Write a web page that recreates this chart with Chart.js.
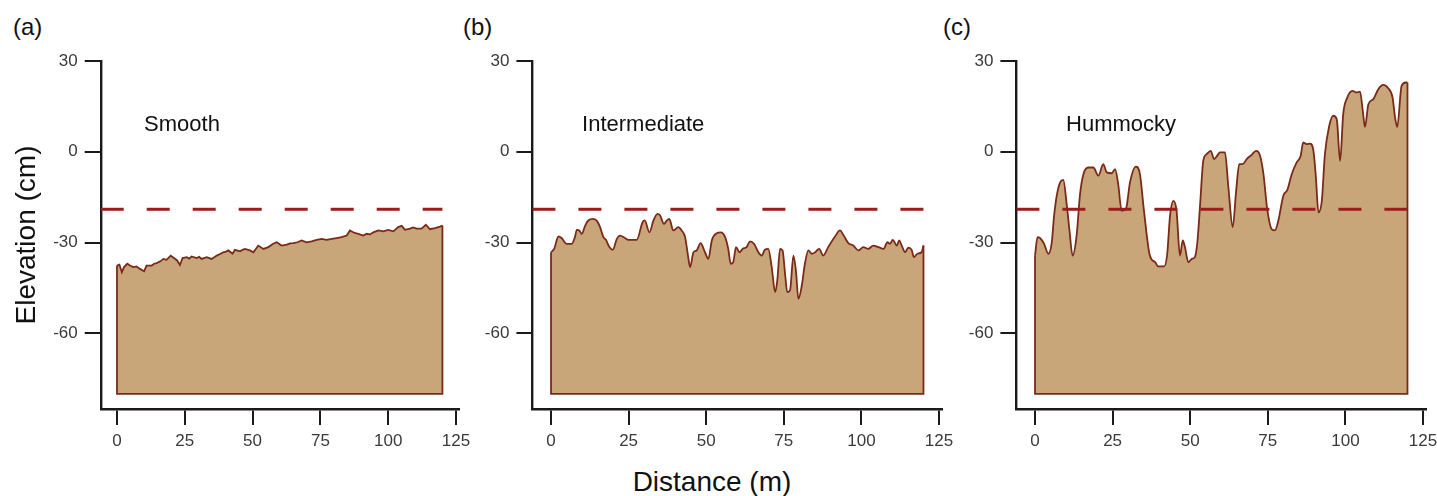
<!DOCTYPE html>
<html>
<head>
<meta charset="utf-8">
<script src="https://cdn.jsdelivr.net/npm/chart.js@4.4.1/dist/chart.umd.min.js"></script>
<style>
  body { margin: 0; background: #fff; width: 1437px; height: 496px; position: relative; overflow: hidden;
         font-family: "Liberation Sans", Arial, sans-serif; }
  canvas { position: absolute; top: 0; }
  .lbl { position: absolute; color: #111; white-space: nowrap; }
</style>
</head>
<body>
<div class="lbl" style="left:13px;top:13px;font-size:24px;line-height:28px">(a)</div>
<div class="lbl" style="left:463px;top:13px;font-size:24px;line-height:28px">(b)</div>
<div class="lbl" style="left:943px;top:13px;font-size:24px;line-height:28px">(c)</div>
<div class="lbl" style="left:0;width:1424px;text-align:center;top:466px;font-size:28px;line-height:32px">Distance (m)</div>

<canvas id="panelA" width="475" height="496" style="left:0px"></canvas>
<canvas id="panelB" width="500" height="496" style="left:460px"></canvas>
<canvas id="panelC" width="492" height="496" style="left:945px"></canvas>

<script>
// ---- data ----
const xTicks = [0, 25, 50, 75, 100, 125];
const yTicks = [-60, -30, 0, 30];
const baseLevel = -80;      // bottom of the filled profile
const waterLevel = -19;     // dashed reference line
const waterX = [-6, 120];

// (a) Smooth
const distA = [0,0.9,1.8,2.6,3.8,4.8,6.0,7.2,8.5,10.0,10.9,12.8,13.7,14.6,16.0,17.1,18.3,19.8,21.0,22.2,
  23.2,24.2,25.7,26.6,27.5,29.4,30.3,31.2,33.1,34.9,36.8,38.0,39.2,40.2,41.1,42.6,43.5,45.4,46.3,47.2,
  49.0,50.3,52.1,54.0,55.8,57.6,58.9,60.7,62.6,63.8,65.0,66.5,68.1,69.9,71.8,73.6,75.5,77.3,79.2,81.0,
  82.8,84.7,85.9,87.1,88.0,89.0,90.8,92.1,93.3,94.5,96.4,98.2,100.0,101.9,103.7,105.0,106.2,108.0,109.2,110.5,
  112.3,113.9,115.4,117.3,119.1,120];
const elevA = [-37.6,-37.3,-39.8,-38.1,-37.0,-37.6,-38.1,-37.9,-38.7,-39.5,-37.6,-37.6,-37.0,-36.8,-36.2,-35.4,-35.7,-34.3,-35.1,-35.9,
  -37.4,-35.1,-34.8,-35.3,-34.6,-35.1,-34.7,-35.4,-34.8,-35.4,-34.3,-33.8,-33.2,-33.0,-32.6,-33.7,-32.4,-32.9,-32.4,-32.1,
  -32.6,-33.2,-31.0,-32.1,-31.5,-30.4,-29.9,-31.0,-30.7,-30.3,-30.2,-29.9,-29.3,-29.9,-29.6,-29.1,-28.8,-29.1,-28.8,-28.5,
  -28.2,-27.7,-26.0,-26.6,-26.9,-27.1,-27.7,-27.1,-27.3,-26.6,-26.0,-26.3,-25.8,-26.3,-24.9,-24.5,-25.8,-25.4,-25.0,-25.4,
  -25.4,-24.1,-25.6,-25.2,-24.7,-24.4];

// (b) Intermediate
const distB = [0,1.0,2.4,3.4,5.0,6.7,7.7,8.3,9.1,9.9,11.0,12.0,13.6,14.9,15.8,16.9,17.7,18.8,19.9,21.2,
  22.2,23.8,24.9,27.6,29.5,30.2,31.7,33.0,34.3,35.1,36.4,37.3,38.1,39.4,41.0,42.1,43.2,44.2,44.8,45.9,
  46.9,48.2,49.6,50.7,51.8,53.4,54.7,56.1,57.1,57.9,58.7,59.6,60.7,61.7,63.0,64.1,65.4,66.8,67.9,68.9,
  70.0,71.1,72.2,72.9,73.8,74.6,75.4,76.1,77.0,78.1,78.9,79.7,80.8,81.8,82.9,84.0,85.1,86.4,87.7,89.3,
  91.5,93.1,94.2,95.8,97.4,99.0,100.6,102.2,103.8,105.5,107.1,108.4,109.2,110.1,111.4,112.2,113.0,114.1,115.1,116.2,
  116.9,118.0,119.4,120];
const elevB = [-33.2,-32.1,-28.0,-28.5,-30.4,-30.4,-28.2,-25.8,-26.0,-27.1,-24.4,-22.7,-22.2,-23.0,-24.9,-28.2,-29.1,-31.5,-32.4,-28.8,
  -27.7,-28.5,-29.1,-29.1,-23.3,-22.7,-26.6,-22.7,-20.5,-21.0,-23.8,-22.7,-22.2,-26.0,-24.9,-26.0,-28.2,-34.8,-38.1,-33.2,
  -32.6,-30.2,-33.2,-35.4,-29.3,-26.9,-26.6,-28.2,-32.1,-37.0,-36.5,-31.5,-33.2,-32.1,-31.5,-29.6,-30.4,-33.2,-34.3,-32.4,
  -32.1,-38.1,-46.4,-42.5,-32.1,-32.6,-40.3,-46.4,-45.8,-34.3,-39.2,-48.6,-44.2,-37.0,-32.6,-33.7,-33.2,-32.1,-34.3,-31.5,
  -28.0,-26.0,-27.5,-30.2,-31.0,-32.6,-31.5,-32.1,-31.0,-31.5,-32.1,-29.9,-30.4,-29.1,-31.0,-29.3,-31.0,-33.2,-31.7,-32.4,
  -34.8,-33.7,-33.2,-31.0];

// (c) Hummocky
const distC = [0,0.8,1.6,2.9,4.3,5.4,6.1,7.0,8.1,9.1,10.2,11.1,12.1,13.4,14.5,15.6,17.2,18.8,20.4,22.0,
  23.1,24.7,25.8,26.8,27.9,29.3,30.6,32.5,33.8,35.1,37.0,38.7,39.7,41.6,42.6,43.5,44.6,45.6,46.7,47.6,
  48.3,49.4,50.5,51.5,52.3,53.2,54.2,55.3,56.6,57.7,58.7,59.6,61.2,62.3,63.7,64.8,65.8,66.9,68.2,69.8,
  71.2,72.5,73.6,74.8,76.2,77.3,78.4,80.0,81.3,82.7,84.3,85.6,86.4,87.5,88.6,89.7,90.5,91.3,92.4,93.4,
  94.8,96.1,97.2,98.3,99.3,100.6,102.3,103.6,104.7,105.6,106.3,107.4,109.0,110.6,112.2,113.8,115.2,116.0,116.7,118.1,
  119.5,120];
const elevC = [-34.3,-28.2,-28.5,-30.4,-33.7,-29.9,-21.6,-14.5,-10.1,-9.3,-17.3,-26.0,-34.3,-27.7,-14.0,-7.4,-5.2,-5.2,-7.9,-4.1,
  -6.8,-7.1,-5.7,-10.7,-19.5,-18.9,-10.1,-4.9,-7.4,-19.5,-34.3,-36.5,-37.9,-37.9,-33.7,-21.1,-16.2,-19.5,-34.3,-29.3,
  -31.5,-36.5,-35.4,-34.8,-29.9,-17.3,-3.0,-0.8,0.3,-2.4,-1.3,-0.2,-0.2,-11.8,-24.9,-12.9,-4.1,-4.1,-2.4,-1.0,
  0.3,-1.3,-7.4,-18.9,-25.5,-26.0,-22.7,-14.5,-12.6,-7.4,-3.5,-1.3,3.1,2.5,2.7,0.3,-8.5,-20.0,-16.2,-0.8,
  8.6,11.9,10.8,-3.0,12.5,17.9,20.1,19.6,19.9,13.5,8.2,15.7,17.4,20.7,22.1,21.0,17.9,11.3,8.2,21.8,
  22.9,22.9];

const nameX = 10, nameY = 7;

Chart.defaults.font.family = '"Liberation Sans", Arial, sans-serif';

const panelName = {
  id: "panelName",
  afterDatasetsDraw(chart, args, opts) {
    const { ctx, scales: { x, y } } = chart;
    ctx.save();
    ctx.font = '22px "Liberation Sans", Arial, sans-serif';
    ctx.fillStyle = "#111";
    ctx.textBaseline = "alphabetic";
    ctx.fillText(opts.text, x.getPixelForValue(opts.x), y.getPixelForValue(opts.y));
    ctx.restore();
  },
};

function makePanel(id, dist, elev, name, yWidth, padRight, smooth, yTitle) {
  const last = dist.length - 1;
  const profile = dist.map((d, i) => ({ x: d, y: elev[i] }));
  const edges = [
    { x: dist[0], y: elev[0] },
    { x: dist[0], y: baseLevel },
    { x: dist[last], y: baseLevel },
    { x: dist[last], y: elev[last] },
  ];
  const water = waterX.map((x) => ({ x: x, y: waterLevel }));

  const axisCommon = {
    grid: { drawOnChartArea: false, drawTicks: true, tickLength: 16, color: "#1a1a1a", lineWidth: 2 },
    border: { display: true, color: "#1a1a1a", width: 2.4 },
  };

  return new Chart(document.getElementById(id), {
    type: "line",
    data: {
      datasets: [
        {
          data: water,
          borderColor: "#9e1c1c",
          borderWidth: 3,
          borderDash: [23, 23],
          pointRadius: 0,
          fill: false,
          order: 0,
        },
        {
          data: edges,
          borderColor: "#7a2a16",
          borderWidth: 1.8,
          pointRadius: 0,
          tension: 0,
          fill: false,
          order: 1,
        },
        {
          data: profile,
          borderColor: "#7a2a16",
          borderWidth: 1.8,
          backgroundColor: "#c8a67a",
          pointRadius: 0,
          tension: 0,
          cubicInterpolationMode: smooth ? "monotone" : "default",
          fill: { value: baseLevel },
          order: 2,
        },
      ],
    },
    options: {
      responsive: false,
      animation: false,
      events: [],
      layout: { padding: { top: 61, right: padRight, left: 0, bottom: 0 } },
      scales: {
        x: {
          type: "linear",
          min: -6,
          max: 126,
          ...axisCommon,
          ticks: { color: "#3a3a3a", font: { size: 17 }, padding: 6 },
          afterBuildTicks: (s) => { s.ticks = xTicks.map((v) => ({ value: v })); },
          afterFit: (s) => { s.height = 87; s.paddingRight = 0; s.paddingLeft = 0; },
        },
        y: {
          type: "linear",
          min: -85,
          max: 30,
          ...axisCommon,
          ticks: { color: "#3a3a3a", font: { size: 17 }, padding: 7 },
          afterBuildTicks: (s) => { s.ticks = yTicks.map((v) => ({ value: v })); },
          afterFit: (s) => { s.width = yWidth; },
          title: {
            display: !!yTitle,
            text: yTitle || "",
            color: "#111",
            font: { size: 28 },
            padding: { top: 10, bottom: 0 },
          },
        },
      },
      plugins: {
        legend: { display: false },
        tooltip: { enabled: false },
        panelName: { text: name, x: nameX, y: nameY },
      },
    },
    plugins: [panelName],
  });
}

makePanel("panelA", distA, elevA, "Smooth", 100.7, 16.3, false, "Elevation (cm)");
makePanel("panelB", distB, elevB, "Intermediate", 72.4, 17.9, true, null);
makePanel("panelC", distC, elevC, "Hummocky", 71.4, 10.9, true, null);
</script>
</body>
</html>
